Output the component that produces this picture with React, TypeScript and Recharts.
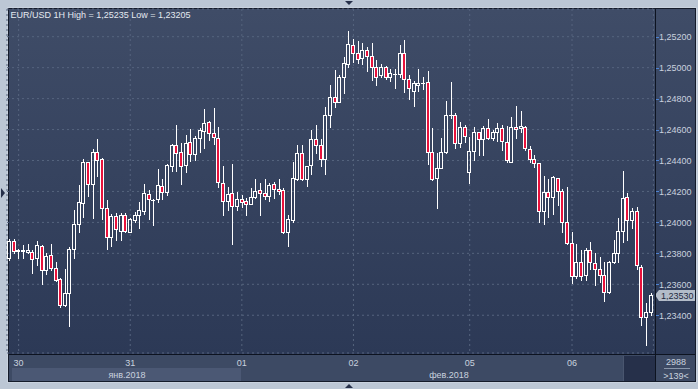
import React from 'react';
import { ComposedChart, Bar, XAxis, YAxis, CartesianGrid, ReferenceLine } from 'recharts';

// EUR/USD 1H candles (139 bars)
const openPrices = [
  1.23768, 1.23880, 1.23819, 1.23818, 1.23807, 1.23811, 1.23768, 1.23850, 1.23691, 1.23788,
  1.23704, 1.23632, 1.23464, 1.23542, 1.23826, 1.23988, 1.24123, 1.24388, 1.24246, 1.24453,
  1.24408, 1.24095, 1.23904, 1.24043, 1.23945, 1.24050, 1.23940, 1.24016, 1.24048, 1.24076,
  1.24184, 1.24147, 1.24149, 1.24235, 1.24195, 1.24366, 1.24500, 1.24453, 1.24371, 1.24520,
  1.24440, 1.24543, 1.24592, 1.24647, 1.24576, 1.24543, 1.24253, 1.24138, 1.24188, 1.24106,
  1.24153, 1.24138, 1.24121, 1.24166, 1.24207, 1.24188, 1.24173, 1.24246, 1.24214, 1.24207,
  1.23940, 1.24017, 1.24280, 1.24447, 1.24279, 1.24369, 1.24537, 1.24498, 1.24408, 1.24692,
  1.24808, 1.24780, 1.24938, 1.25022, 1.25146, 1.25093, 1.25060, 1.25114, 1.25075, 1.25002,
  1.24952, 1.25006, 1.24938, 1.24958, 1.24959, 1.25093, 1.24927, 1.24851, 1.24891, 1.24899,
  1.24905, 1.24453, 1.24285, 1.24354, 1.24453, 1.24692, 1.24694, 1.24511, 1.24614, 1.24324,
  1.24463, 1.24582, 1.24537, 1.24608, 1.24547, 1.24586, 1.24608, 1.24521, 1.24392, 1.24614,
  1.24608, 1.24618, 1.24474, 1.24408, 1.24382, 1.24076, 1.24198, 1.24162, 1.24285, 1.24205,
  1.24005, 1.23869, 1.23656, 1.23742, 1.23660, 1.23822, 1.23736, 1.23697, 1.23660, 1.23552,
  1.23746, 1.23804, 1.23945, 1.24162, 1.24014, 1.24076, 1.23714, 1.23389, 1.23419,
];
const highPrices = [
  1.23893, 1.23891, 1.23830, 1.23854, 1.23861, 1.23822, 1.23882, 1.23852, 1.23804, 1.23861,
  1.23746, 1.23639, 1.23699, 1.23839, 1.24080, 1.24242, 1.24410, 1.24392, 1.24476, 1.24539,
  1.24414, 1.24145, 1.24053, 1.24059, 1.24059, 1.24059, 1.24030, 1.24065, 1.24130, 1.24246,
  1.24209, 1.24149, 1.24345, 1.24281, 1.24376, 1.24507, 1.24629, 1.24511, 1.24565, 1.24604,
  1.24560, 1.24608, 1.24733, 1.24655, 1.24737, 1.24618, 1.24364, 1.24227, 1.24377, 1.24195,
  1.24177, 1.24156, 1.24220, 1.24281, 1.24253, 1.24281, 1.24257, 1.24263, 1.24281, 1.24220,
  1.24048, 1.24392, 1.24500, 1.24500, 1.24363, 1.24597, 1.24629, 1.24537, 1.24748, 1.24888,
  1.24985, 1.24952, 1.25071, 1.25235, 1.25185, 1.25172, 1.25157, 1.25131, 1.25157, 1.25049,
  1.25022, 1.25012, 1.24991, 1.24991, 1.25146, 1.25179, 1.24952, 1.24914, 1.24991, 1.24938,
  1.24978, 1.24608, 1.24447, 1.24543, 1.24784, 1.24905, 1.24705, 1.24651, 1.24629, 1.24554,
  1.24614, 1.24586, 1.24625, 1.24668, 1.24597, 1.24640, 1.24629, 1.24625, 1.24679, 1.24752,
  1.24720, 1.24625, 1.24496, 1.24436, 1.24384, 1.24300, 1.24279, 1.24300, 1.24289, 1.24214,
  1.24229, 1.23940, 1.23861, 1.23822, 1.23835, 1.23872, 1.23800, 1.23775, 1.23746, 1.23753,
  1.23886, 1.24027, 1.24332, 1.24188, 1.24094, 1.24098, 1.23725, 1.23477, 1.23542,
];
const lowPrices = [
  1.23757, 1.23800, 1.23772, 1.23772, 1.23800, 1.23675, 1.23727, 1.23600, 1.23665, 1.23693,
  1.23622, 1.23455, 1.23462, 1.23333, 1.23768, 1.23940, 1.24037, 1.24171, 1.24030, 1.24302,
  1.24022, 1.23830, 1.23848, 1.23886, 1.23886, 1.23940, 1.23938, 1.24005, 1.23962, 1.24054,
  1.24020, 1.23983, 1.24134, 1.24149, 1.24177, 1.24332, 1.24334, 1.24248, 1.24328, 1.24397,
  1.24403, 1.24457, 1.24479, 1.24532, 1.24507, 1.24227, 1.24048, 1.24080, 1.23861, 1.24080,
  1.24098, 1.24048, 1.24119, 1.24160, 1.24048, 1.24149, 1.24138, 1.24160, 1.24182, 1.23930,
  1.23850, 1.24005, 1.24272, 1.24272, 1.24237, 1.24313, 1.24447, 1.24366, 1.24315, 1.24618,
  1.24748, 1.24776, 1.24834, 1.25006, 1.25038, 1.25030, 1.25024, 1.24980, 1.24920, 1.24888,
  1.24941, 1.24925, 1.24916, 1.24871, 1.24941, 1.24845, 1.24797, 1.24754, 1.24851, 1.24862,
  1.24377, 1.24275, 1.24091, 1.24350, 1.24450, 1.24673, 1.24483, 1.24489, 1.24518, 1.24253,
  1.24403, 1.24436, 1.24436, 1.24537, 1.24532, 1.24528, 1.24468, 1.24392, 1.24388, 1.24543,
  1.24582, 1.24468, 1.24392, 1.24360, 1.24000, 1.23988, 1.24037, 1.24054, 1.24112, 1.23940,
  1.23863, 1.23611, 1.23643, 1.23627, 1.23627, 1.23702, 1.23596, 1.23613, 1.23494, 1.23546,
  1.23736, 1.23746, 1.23875, 1.23886, 1.23964, 1.23702, 1.23337, 1.23205, 1.23402,
];
const closePrices = [
  1.23882, 1.23815, 1.23815, 1.23820, 1.23822, 1.23762, 1.23852, 1.23691, 1.23781, 1.23704,
  1.23626, 1.23464, 1.23542, 1.23826, 1.23988, 1.24130, 1.24392, 1.24246, 1.24453, 1.24403,
  1.24095, 1.23904, 1.24043, 1.23956, 1.24050, 1.23945, 1.24020, 1.24048, 1.24078, 1.24188,
  1.24149, 1.24143, 1.24242, 1.24195, 1.24371, 1.24500, 1.24447, 1.24366, 1.24511, 1.24440,
  1.24543, 1.24597, 1.24640, 1.24576, 1.24550, 1.24259, 1.24140, 1.24184, 1.24108, 1.24149,
  1.24130, 1.24121, 1.24162, 1.24203, 1.24188, 1.24173, 1.24240, 1.24214, 1.24203, 1.23936,
  1.24020, 1.24285, 1.24447, 1.24280, 1.24363, 1.24537, 1.24500, 1.24408, 1.24694, 1.24808,
  1.24780, 1.24938, 1.25028, 1.25151, 1.25093, 1.25054, 1.25114, 1.25075, 1.25002, 1.24941,
  1.25002, 1.24938, 1.24963, 1.24960, 1.25093, 1.24927, 1.24867, 1.24899, 1.24901, 1.24903,
  1.24453, 1.24279, 1.24350, 1.24453, 1.24694, 1.24696, 1.24511, 1.24618, 1.24561, 1.24461,
  1.24582, 1.24537, 1.24608, 1.24547, 1.24586, 1.24608, 1.24528, 1.24403, 1.24618, 1.24601,
  1.24625, 1.24479, 1.24408, 1.24382, 1.24076, 1.24198, 1.24162, 1.24292, 1.24205, 1.24001,
  1.23865, 1.23656, 1.23742, 1.23656, 1.23822, 1.23742, 1.23699, 1.23660, 1.23552, 1.23746,
  1.23800, 1.23945, 1.24156, 1.24014, 1.24076, 1.23725, 1.23391, 1.23419, 1.23530,
];

// first bar of each trading day and its label
const dayStarts = [2, 26, 50, 74, 99, 121];
const dayLabels = ['30', '31', '01', '02', '05', '06'];
const monthLabels = ['янв.2018', 'фев.2018'];
const priceTicks = [1.234, 1.236, 1.238, 1.24, 1.242, 1.244, 1.246, 1.248, 1.25, 1.252];
const priceDomain = [1.23156, 1.25379];
const barCount = '2988';
const visibleBars = '>139<';

const candles = openPrices.map((open, i) => ({
  i,
  open,
  high: highPrices[i],
  low: lowPrices[i],
  close: closePrices[i],
}));

const RED = '#e8123c';
const TEXT = '#c9d2df';
const FONT = '"Liberation Sans", Arial, sans-serif';
const fmt = (v: number) => v.toFixed(5).replace('.', ',');
const lastClose = closePrices[closePrices.length - 1];

function Candle(props: any) {
  const { x, y, width, height, payload } = props;
  const { open, high, low, close } = payload;
  const top = Math.min(y, y + height);
  const h = Math.abs(height);
  const k = high === low ? 0 : h / (high - low);
  const py = (v: number) => top + (high - v) * k;
  const col = Math.floor(x + width / 2);
  const cx = col + 0.5;
  const up = close >= open;
  const bTop = Math.round(py(Math.max(open, close)));
  const bBot = Math.round(py(Math.min(open, close)));
  const wTop = Math.round(py(high));
  const wBot = Math.round(py(low));
  return (
    <g shapeRendering="crispEdges">
      {bTop > wTop && <line x1={cx} x2={cx} y1={wTop} y2={bTop} stroke="#fff" />}
      {wBot > bBot && <line x1={cx} x2={cx} y1={bBot + 1} y2={wBot + 1} stroke="#fff" />}
      {bBot - bTop < 1 ? (
        <line x1={col - 2} x2={col + 2} y1={bTop + 0.5} y2={bTop + 0.5} stroke="#fff" />
      ) : (
        <rect
          x={col - 1.5}
          y={bTop + 0.5}
          width={3}
          height={bBot - bTop}
          fill={up ? 'none' : RED}
          stroke="#fff"
        />
      )}
    </g>
  );
}

function PriceTick(props: any) {
  const { y, payload } = props;
  const yy = Math.round(y) + 0.5;
  return (
    <g>
      <line x1={656} x2={659} y1={yy} y2={yy} stroke="#4d82d2" />
      <text x={659} y={y + 3.3} fill={TEXT} fontSize={9} fontFamily={FONT}>
        {fmt(payload.value)}
      </text>
    </g>
  );
}

function DayTick(props: any) {
  const { x, payload } = props;
  const idx = dayStarts.indexOf(payload.value);
  return (
    <text x={x} y={366} fill={TEXT} fontSize={9} fontFamily={FONT} textAnchor="middle">
      {dayLabels[idx]}
    </text>
  );
}

function PriceTag(props: any) {
  const y = props.viewBox ? props.viewBox.y : 0;
  const t = Math.round(y) - 5;
  return (
    <g>
      <polygon
        points={`655,${t + 5} 659,${t} 695,${t} 695,${t + 11} 659,${t + 11}`}
        fill="#b3bcc9"
      />
      <text x={661} y={t + 8.7} fill="#1e2940" fontSize={9} fontFamily={FONT}>
        {fmt(lastClose)}
      </text>
    </g>
  );
}

export default function App() {
  return (
    <div style={{ position: 'fixed', left: 0, top: 0, width: 698, height: 389, overflow: 'hidden' }}>
      <svg width={698} height={389} style={{ position: 'absolute', left: 0, top: 0 }}>
        <defs>
          <linearGradient id="bg" x1="0" y1="0" x2="0" y2="1">
            <stop offset="0%" stopColor="#3f4c67" />
            <stop offset="100%" stopColor="#2c3956" />
          </linearGradient>
        </defs>
        <rect x={0} y={0} width={698} height={389} fill="#bcc7d5" />
        <rect x={7} y={7} width={690} height={376} fill="#c9d2de" />
        <rect x={8} y={8} width={688} height={374} fill="#141b2a" />
        <rect x={9} y={9} width={646} height={345} fill="url(#bg)" />
        <rect x={656} y={9} width={39} height={345} fill="url(#bg)" />
        <rect x={9} y={355} width={646} height={26} fill="#3d4a64" />
        <rect x={656} y={355} width={39} height={26} fill="#3d4a64" />
        <rect x={12} y={368} width={229} height={13} fill="#4b5874" />
        <rect x={623} y={356} width={32} height={25} fill="#4a566f" />
        <rect x={624} y={356} width={31} height={25} fill="#26304a" />
      </svg>

      <div style={{ position: 'absolute', left: 0, top: 0 }}>
        <ComposedChart
          width={698}
          height={389}
          data={candles}
          margin={{ top: 9, right: 3.6, bottom: 9, left: 7 }}
          barCategoryGap={0}
        >
          <CartesianGrid stroke="#56647e" strokeDasharray="2 3" />
          <XAxis
            dataKey="i"
            type="category"
            ticks={dayStarts}
            interval={0}
            axisLine={false}
            tickLine={false}
            height={27}
            tick={<DayTick />}
          />
          <YAxis
            orientation="right"
            type="number"
            domain={priceDomain}
            allowDataOverflow
            ticks={priceTicks}
            axisLine={false}
            tickLine={false}
            width={41}
            tick={<PriceTick />}
          />
          <Bar
            dataKey={(d: any) => [d.low, d.high]}
            shape={<Candle />}
            isAnimationActive={false}
          />
          <ReferenceLine y={lastClose} stroke="none" ifOverflow="visible" label={<PriceTag />} />
        </ComposedChart>
      </div>

      <svg width={698} height={389} style={{ position: 'absolute', left: 0, top: 0, pointerEvents: 'none' }}>
        <line x1={655.5} x2={655.5} y1={9} y2={381} stroke="#0d1320" />
        <line x1={9} x2={695} y1={354.5} y2={354.5} stroke="#0d1320" />
        <line x1={664} x2={690} y1={368.5} y2={368.5} stroke="#8a97ab" />
        <polygon points="345,1 353,1 349,5" fill="#26304a" />
        <polygon points="345,388 353,388 349,384" fill="#26304a" />
        <polygon points="1,188 5,193 1,198" fill="#26304a" />
        <text x={10.5} y={18.3} fill="#e4e9f0" fontSize={9} fontFamily={FONT}>
          EUR/USD 1H High = 1,25235 Low = 1,23205
        </text>
        <text x={127} y={377.5} fill={TEXT} fontSize={9} fontFamily={FONT} textAnchor="middle">
          {monthLabels[0]}
        </text>
        <text x={449} y={377.5} fill={TEXT} fontSize={9} fontFamily={FONT} textAnchor="middle">
          {monthLabels[1]}
        </text>
        <text x={676} y={365} fill={TEXT} fontSize={9} fontFamily={FONT} textAnchor="middle">
          {barCount}
        </text>
        <text x={676} y={378.5} fill={TEXT} fontSize={9} fontFamily={FONT} textAnchor="middle">
          {visibleBars}
        </text>
      </svg>
    </div>
  );
}
